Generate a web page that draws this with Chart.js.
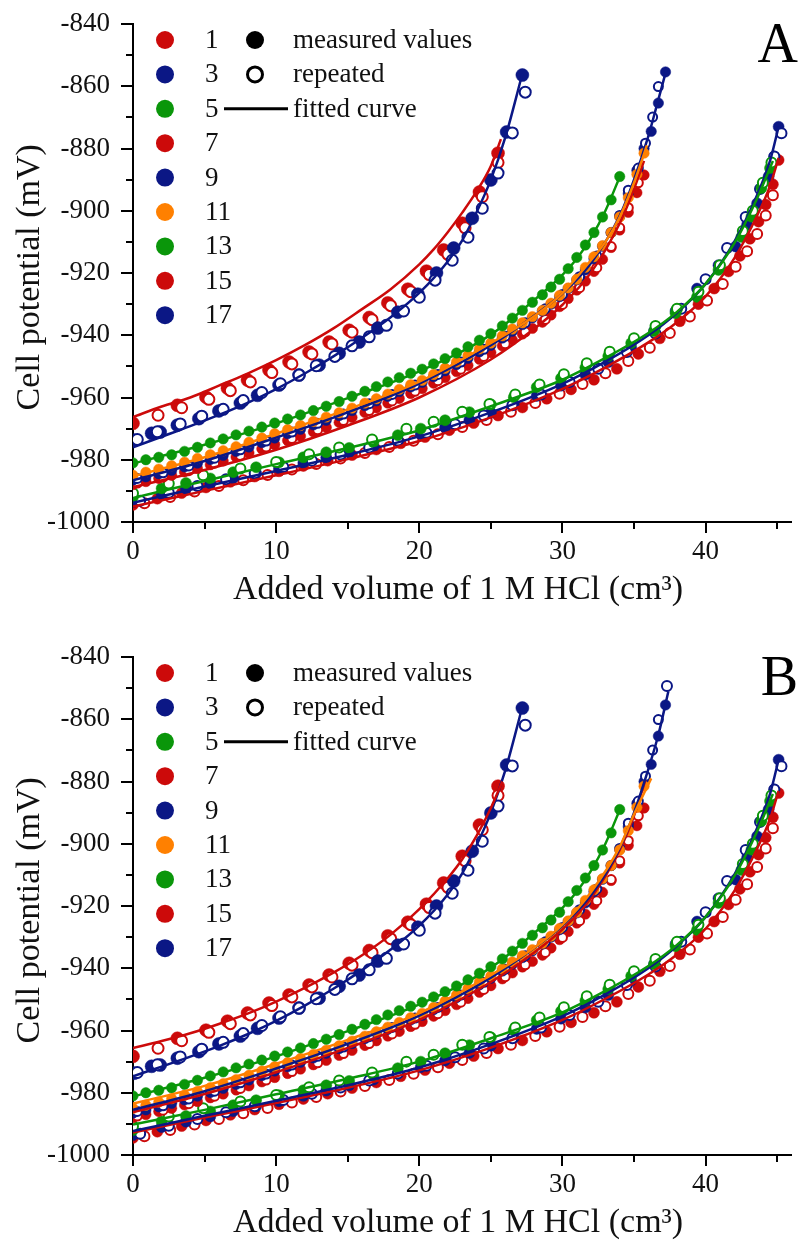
<!DOCTYPE html>
<html><head><meta charset="utf-8">
<script src="https://cdn.jsdelivr.net/npm/chart.js@4.4.1/dist/chart.umd.min.js"></script>
<style>
html,body{margin:0;padding:0;background:#fff;overflow:hidden;width:799px;height:1240px;}
.panel{position:absolute;left:0;width:799px;height:607px;}
#pa{top:0}#pb{top:633px}
</style></head><body>
<div class="panel" id="pa"><canvas id="ca" width="799" height="607"></canvas></div>
<div class="panel" id="pb"><canvas id="cb" width="799" height="607"></canvas></div>
<script>
// ---------- axis ticks ----------
const xMajorTicks = [0, 10, 20, 30, 40];
const xMinorTicks = [5, 15, 25, 35, 45];
const yMajorTicks = [-1000, -980, -960, -940, -920, -900, -880, -860, -840];
const yMinorTicks = [-990, -970, -950, -930, -910, -890, -870, -850];

// ---------- legend ----------
const legendLabels = ['1', '3', '5', '7', '9', '11', '13', '15', '17'];
const RED = '#cc0a0a', NAVY = '#0b1785', GREEN = '#0a960a', ORANGE = '#ff8000';
const legendColors = [RED, NAVY, GREEN, RED, NAVY, ORANGE, GREEN, RED, NAVY];

// ---------- group 1 (series 1 red, 3 navy) ----------
const g1RedX = [0, 3.1, 5.1, 6.6, 8.0, 9.5, 10.9, 12.3, 13.7, 15.1, 16.5, 17.8, 19.2, 20.5, 21.7, 23.0, 24.2, 25.5];
const g1RedY = [-968.3, -962.5, -959.9, -957.0, -954.4, -951.2, -948.6, -945.4, -942.2, -938.4, -934.3, -929.6, -925.2, -919.4, -912.6, -904.0, -894.0, -881.5];
const g1RedRepX = [1.75, 3.4, 5.3, 6.8, 8.2, 9.7, 11.1, 12.5, 13.9, 15.3, 16.7, 18.0, 19.4, 20.7, 22.0, 23.2, 24.4, 25.5];
const g1RedRepY = [-965.7, -963.3, -960.6, -957.8, -955.0, -952.0, -949.2, -946.0, -942.8, -939.0, -935.0, -930.5, -926.0, -920.5, -914.0, -905.5, -895.5, -884.5];
const g1NavyX = [0.1, 1.3, 1.9, 3.1, 4.6, 6.0, 7.5, 8.7, 10.2, 11.6, 13.0, 14.4, 15.8, 17.1, 18.5, 19.9, 21.2, 22.4, 23.7, 25.0, 26.1, 27.2];
const g1NavyY = [-973.7, -971.5, -971.1, -968.9, -966.8, -964.3, -961.8, -959.3, -956.0, -952.8, -949.6, -945.8, -942.2, -937.7, -932.6, -926.8, -920.0, -912.0, -902.4, -890.1, -874.7, -856.4];
const g1NavyRepX = [0.3, 1.7, 3.3, 4.8, 6.3, 7.7, 9.0, 10.3, 11.6, 12.8, 14.1, 15.3, 16.5, 17.7, 18.9, 20.0, 21.1, 22.3, 23.4, 24.4, 25.5, 26.5, 27.4];
const g1NavyRepY = [-973.5, -971.0, -968.5, -966.0, -963.8, -961.0, -958.4, -955.6, -952.8, -949.8, -946.8, -943.4, -940.5, -936.8, -932.2, -927.8, -922.3, -915.9, -908.5, -899.2, -887.9, -875.0, -861.9];

// ---------- group 2 (series 5 green, 7 red, 9 navy, 11 orange) ----------
const g2X = [0, 0.9, 1.8, 2.7, 3.6, 4.5, 5.4, 6.3, 7.2, 8.1, 9.0, 9.9, 10.8, 11.7, 12.6, 13.5, 14.4, 15.3, 16.2, 17.0, 17.8, 18.6, 19.4, 20.2, 21.0, 21.8, 22.6, 23.4, 24.2, 25.0, 25.8, 26.5, 27.2, 27.9, 28.6, 29.2, 29.8, 30.4, 31.0, 31.6, 32.2, 32.8, 33.4, 34.0, 34.6, 35.2, 35.7, 36.2, 36.7, 37.2];
const g2GreenY = [-981.0, -980.0, -979.2, -978.4, -977.3, -976.0, -974.6, -973.3, -972.0, -970.8, -969.5, -968.2, -966.9, -965.6, -964.2, -962.8, -961.3, -959.6, -958.0, -956.5, -955.0, -953.6, -952.2, -950.9, -949.2, -947.5, -945.7, -943.7, -941.6, -939.5, -937.0, -934.5, -932.0, -929.4, -927.0, -924.5, -922.0, -918.6, -915.0, -911.0, -907.0, -902.0, -896.5, -889.0];
const g2OrangeY = [-985.0, -984.0, -983.0, -981.9, -980.8, -979.6, -978.4, -977.1, -975.8, -974.4, -973.0, -971.6, -970.3, -969.0, -967.7, -966.3, -964.9, -963.4, -961.8, -960.4, -958.9, -957.4, -955.9, -954.5, -952.6, -950.6, -948.6, -946.5, -944.4, -942.5, -940.2, -938.0, -936.0, -934.0, -932.0, -929.7, -927.2, -924.8, -922.0, -918.2, -914.8, -911.2, -907.0, -902.0, -895.8, -888.3, -881.5];
const g2NavyY = [-986.5, -985.5, -984.5, -983.4, -982.3, -981.1, -979.9, -978.6, -977.3, -975.9, -974.5, -973.0, -971.6, -970.2, -968.8, -967.3, -965.8, -964.2, -962.6, -961.1, -959.6, -958.1, -956.6, -955.1, -953.3, -951.4, -949.4, -947.4, -945.3, -943.2, -940.9, -938.7, -936.6, -934.4, -932.2, -930.0, -927.6, -925.0, -922.2, -919.0, -915.4, -911.4, -907.0, -901.8, -894.5, -887.0, -880.0, -874.5, -865.4, -855.4];
const g2RedY = [-988.0, -987.0, -986.0, -985.0, -983.9, -982.8, -981.6, -980.4, -979.1, -977.8, -976.5, -975.1, -973.8, -972.4, -971.0, -969.6, -968.0, -966.4, -964.8, -963.3, -961.8, -960.3, -958.7, -957.1, -955.4, -953.6, -951.7, -949.7, -947.7, -945.6, -943.4, -941.5, -939.6, -937.8, -935.8, -933.5, -930.8, -928.2, -925.5, -922.6, -919.5, -915.6, -911.8, -906.2, -900.5, -894.2, -888.5];
const g2RepX = [0.3, 2.1, 3.9, 5.7, 7.5, 9.3, 11.1, 12.9, 14.7, 16.5, 18.1, 19.7, 21.3, 22.9, 24.5, 26.0, 27.4, 28.8, 30.0, 31.2, 32.4, 33.4, 34.0, 34.6, 35.3, 35.8, 36.3, 36.7];
const g2NavyRepY = [-986.0, -984.2, -982.0, -979.5, -976.8, -974.0, -971.1, -968.3, -965.3, -962.0, -959.0, -956.0, -952.6, -948.6, -944.5, -940.3, -936.0, -931.5, -926.9, -921.2, -914.5, -907.0, -901.5, -893.4, -886.3, -878.3, -869.9, -860.1];
const g2RedRepY = [-987.5, -985.6, -983.5, -981.1, -978.6, -975.9, -973.2, -970.4, -967.4, -964.2, -961.1, -958.0, -954.6, -950.9, -946.8, -942.7, -938.9, -934.9, -930.1, -924.7, -918.3, -911.5, -905.5, -899.0, -891.0];
const bNavyRepExtraX = [37.3];
const bNavyRepExtraY = [-849.3];

// ---------- group 3 (series 13 green, 15 red, 17 navy) ----------
const g3GreenX = [0, 2.0, 3.7, 5.4, 7.0, 8.6, 10.2, 11.9, 13.5, 15.1, 16.8, 18.5, 20.1, 21.8, 23.5, 25.0, 26.6, 28.2, 29.9, 31.6, 33.2, 34.8, 36.4, 37.9, 39.4, 40.9, 42.5, 43.2, 43.9, 44.5];
const g3GreenY = [-992.0, -989.2, -987.5, -986.0, -984.0, -982.4, -980.8, -979.2, -977.6, -976.2, -974.4, -972.1, -970.0, -967.3, -964.7, -962.2, -959.9, -956.7, -953.8, -950.4, -946.7, -942.5, -938.7, -932.9, -927.7, -919.0, -908.4, -901.9, -892.7, -886.3];
const g3GreenRepX = [0, 2.5, 4.9, 7.5, 10.0, 12.3, 14.4, 16.7, 19.1, 21.0, 23.0, 24.9, 26.7, 28.4, 30.1, 31.7, 33.3, 35.0, 36.5, 38.0, 39.5, 41.0, 42.6, 43.3, 44.0, 44.6];
const g3GreenRepY = [-990.8, -987.6, -985.0, -982.8, -980.7, -978.2, -976.1, -973.5, -970.0, -967.8, -964.6, -962.1, -959.0, -955.8, -952.5, -949.0, -945.3, -941.0, -937.0, -931.5, -926.0, -917.5, -906.5, -900.0, -891.0, -884.5];
const g3NavyX = [0, 2.0, 3.7, 5.4, 7.0, 8.6, 10.2, 11.9, 13.5, 15.1, 16.8, 18.5, 20.1, 21.8, 23.5, 25.0, 26.6, 28.2, 29.9, 31.6, 33.2, 34.8, 36.4, 37.9, 39.4, 40.9, 42.1, 42.9, 43.6, 44.4, 44.8, 45.1];
const g3NavyY = [-993.6, -991.0, -989.3, -987.6, -985.9, -984.3, -982.7, -981.0, -979.3, -977.6, -975.8, -973.8, -971.8, -969.6, -967.2, -964.9, -962.3, -959.5, -956.2, -952.6, -948.6, -944.0, -938.6, -932.2, -925.0, -917.5, -911.5, -904.5, -897.6, -889.0, -882.6, -873.0];
const g3NavyRepX = [0.5, 2.5, 4.5, 6.5, 8.5, 10.5, 12.5, 14.5, 16.5, 18.5, 20.5, 22.5, 24.5, 26.5, 28.5, 30.5, 32.5, 34.5, 36.5, 38.3, 40.0, 41.5, 42.8, 43.8, 44.8, 45.3];
const g3NavyRepY = [-993.2, -990.6, -988.4, -986.3, -984.3, -982.3, -980.3, -978.3, -976.1, -973.8, -971.3, -968.6, -965.8, -962.5, -959.0, -955.0, -950.8, -945.4, -939.4, -931.5, -922.0, -912.0, -902.0, -893.0, -882.6, -875.1];
const g3RedX = [0, 1.7, 3.4, 5.1, 6.8, 8.5, 10.2, 11.9, 13.6, 15.3, 17.0, 18.7, 20.4, 22.1, 23.8, 25.5, 27.2, 28.9, 30.6, 32.2, 33.8, 35.3, 36.8, 38.2, 39.5, 40.6, 41.6, 42.4, 43.1, 43.7, 44.2, 44.7, 45.1];
const g3RedY = [-994.5, -992.5, -990.7, -988.9, -987.1, -985.4, -983.7, -982.0, -980.3, -978.5, -976.7, -974.7, -972.7, -970.5, -968.2, -965.8, -963.2, -960.4, -957.4, -954.3, -950.8, -946.0, -941.0, -935.5, -930.0, -925.0, -919.5, -914.5, -909.0, -903.5, -898.0, -891.5, -883.7];
const g3RedRepX = [0.8, 2.6, 4.3, 6.0, 7.7, 9.4, 11.1, 12.8, 14.5, 16.2, 17.9, 19.6, 21.3, 23.0, 24.7, 26.4, 28.1, 29.8, 31.4, 33.0, 34.6, 36.1, 37.5, 38.9, 40.1, 41.2, 42.1, 42.9, 43.6, 44.2, 44.7];
const g3RedRepY = [-994.0, -992.0, -990.2, -988.4, -986.6, -984.9, -983.1, -981.4, -979.6, -977.8, -975.9, -973.9, -971.8, -969.5, -967.2, -964.6, -961.8, -958.8, -955.7, -952.2, -948.3, -944.0, -939.3, -934.0, -928.8, -923.5, -918.0, -913.0, -907.5, -901.5, -895.0];

// ---------- fitted curves, panel A ----------
const fA1RedX = [0, 2, 4, 6, 8, 10, 12, 14, 16, 18, 20, 21, 22, 23, 24, 25, 25.7];
const fA1RedY = [-966.3, -962.9, -960.0, -956.2, -952.3, -948.0, -943.2, -937.8, -931.6, -925.2, -917.2, -912.4, -906.8, -900.6, -893.8, -885.6, -877.0];
const fA1NavyX = [0, 2, 4, 6, 8, 10, 12, 14, 16, 18, 20, 22, 23, 24, 25, 26, 27.2];
const fA1NavyY = [-976.0, -972.6, -969.2, -965.6, -961.7, -957.3, -952.3, -946.8, -940.8, -934.2, -926.4, -916.2, -909.5, -900.5, -890.0, -876.5, -856.0];
const f2GreenX = [0, 5, 10, 15, 20, 25, 28, 30, 31, 32, 33, 34.1];
const f2GreenY = [-981.2, -975.2, -968.3, -960.2, -951.6, -939.8, -928.8, -920.6, -915.4, -908.6, -900.0, -888.0];
const fA2OrangeX = [0, 5, 10, 15, 20, 25, 28, 30, 32, 33, 34, 35, 35.9];
const fA2OrangeY = [-985.3, -979.2, -971.6, -963.8, -954.9, -942.5, -934.0, -926.5, -915.8, -910.0, -902.0, -891.0, -879.0];
const fA2NavyX = [0, 5, 10, 15, 20, 25, 28, 30, 32, 34, 35, 36, 36.6, 37.3];
const fA2NavyY = [-986.6, -980.4, -972.9, -964.8, -955.5, -943.2, -933.8, -926.6, -916.8, -901.6, -890.0, -876.0, -866.0, -854.0];
const fA2RedX = [0, 5, 10, 15, 20, 25, 28, 30, 32, 34, 35, 35.7];
const fA2RedY = [-988.8, -983.3, -976.8, -969.0, -960.0, -947.8, -938.0, -930.2, -919.8, -904.0, -893.0, -884.0];
const f3GreenX = [0, 5, 10, 15, 20, 25, 30, 33, 36, 38, 40, 42, 43.5, 44.7];
const fA3GreenY = [-992.3, -986.8, -981.4, -976.2, -970.5, -962.8, -954.3, -947.3, -939.3, -932.5, -923.5, -910.5, -897.0, -884.0];
const f3X = [0, 5, 10, 15, 20, 25, 30, 33, 36, 38, 40, 42, 43.5, 44.5, 45.1];
const fA3NavyY = [-993.8, -988.6, -983.6, -978.4, -972.5, -964.8, -955.6, -948.5, -940.0, -932.8, -923.5, -910.0, -896.0, -884.0, -873.0];
const fA3RedY = [-995.0, -990.0, -985.0, -979.8, -974.0, -966.4, -957.2, -950.3, -942.3, -935.8, -927.5, -915.3, -902.5, -892.0, -883.0];

// ---------- fitted curves, panel B ----------
const fB1RedX = [0, 2, 4, 6, 8, 10, 12, 14, 16, 18, 20, 22, 23, 24, 25, 25.8];
const fB1RedY = [-965.6, -963.4, -960.9, -957.9, -954.6, -950.7, -946.3, -941.4, -935.8, -929.2, -921.0, -911.0, -905.0, -897.5, -888.5, -880.0];
const fB1NavyY = [-974.7, -971.6, -968.4, -965.0, -961.2, -956.9, -952.0, -946.6, -940.6, -934.0, -926.3, -916.2, -909.5, -900.5, -890.0, -876.5, -856.0];
const fB2OrangeX = [0, 5, 10, 15, 20, 25, 28, 30, 32, 34, 35, 36.2];
const fB2OrangeY = [-983.5, -977.8, -970.7, -963.0, -954.4, -942.2, -933.5, -926.0, -915.5, -901.0, -890.5, -879.0];
const fB2NavyX = [0, 5, 10, 15, 20, 25, 28, 30, 32, 34, 35, 36, 36.7, 37.4];
const fB2NavyY = [-985.5, -979.5, -972.2, -964.3, -955.2, -943.0, -933.6, -926.3, -916.5, -901.4, -890.0, -876.0, -865.0, -851.0];
const fB2RedX = [0, 5, 10, 15, 20, 25, 28, 30, 32, 34, 35, 35.8];
const fB2RedY = [-986.2, -980.4, -973.4, -965.6, -956.6, -944.4, -935.0, -927.5, -917.4, -902.0, -891.0, -879.5];
const fB3GreenY = [-990.2, -985.5, -980.5, -975.5, -970.0, -962.5, -954.2, -947.3, -939.3, -932.5, -923.5, -910.5, -897.0, -884.0];
const fB3NavyY = [-992.3, -987.4, -982.6, -977.6, -971.9, -964.4, -955.4, -948.4, -940.0, -932.8, -923.5, -910.0, -896.0, -884.0, -873.0];
const fB3RedY = [-992.8, -988.0, -983.3, -978.4, -972.8, -965.5, -956.6, -949.8, -942.0, -935.6, -927.3, -915.2, -902.5, -892.0, -883.0];

// ---------- helpers ----------
const SERIF = "'Liberation Serif', 'Times New Roman', serif";
const TXT = '#111';
const NB = '\u00a0';
function pts(X, Y) { return Y.map((y, i) => ({ x: X[i], y: y })); }
function filled(X, Y, c, r) {
  return { data: pts(X, Y), showLine: false, pointRadius: r, pointHoverRadius: r,
    pointBackgroundColor: c, pointBorderColor: c, pointBorderWidth: 0.5 };
}
function openPts(X, Y, c, r) {
  return { data: pts(X, Y), showLine: false, pointRadius: r, pointHoverRadius: r,
    pointBackgroundColor: '#ffffff', pointBorderColor: c, pointBorderWidth: 2 };
}
function fit(X, Y, c) {
  return { data: pts(X, Y), showLine: true, borderColor: c, borderWidth: 2.5, pointRadius: 0,
    cubicInterpolationMode: 'monotone', fill: false };
}

function decorPlugin(letter) {
  return {
    id: 'decor' + letter,
    afterDraw(chart) {
      const ctx = chart.ctx, xs = chart.scales.x, ys = chart.scales.y, a = chart.chartArea;
      ctx.save();
      ctx.strokeStyle = '#000'; ctx.lineWidth = 2;
      const tickX = (v, len) => { const p = Math.round(xs.getPixelForValue(v)); ctx.beginPath(); ctx.moveTo(p, a.bottom); ctx.lineTo(p, a.bottom + len); ctx.stroke(); };
      const tickY = (v, len) => { const p = Math.round(ys.getPixelForValue(v)); ctx.beginPath(); ctx.moveTo(a.left, p); ctx.lineTo(a.left - len, p); ctx.stroke(); };
      xMajorTicks.forEach(v => tickX(v, 11)); xMinorTicks.forEach(v => tickX(v, 7));
      yMajorTicks.forEach(v => tickY(v, 12)); yMinorTicks.forEach(v => tickY(v, 7));
      // legend
      ctx.font = '27px ' + SERIF; ctx.textBaseline = 'middle'; ctx.textAlign = 'left';
      legendLabels.forEach((t, i) => {
        const y = 40 + i * 34.4;
        ctx.fillStyle = legendColors[i]; ctx.beginPath(); ctx.arc(165, y, 9, 0, Math.PI * 2); ctx.fill();
        ctx.fillStyle = TXT; ctx.fillText(t, 205, y + 1);
      });
      ctx.fillStyle = '#000';
      ctx.beginPath(); ctx.arc(255, 40, 9, 0, Math.PI * 2); ctx.fill();
      ctx.lineWidth = 3; ctx.beginPath(); ctx.arc(255, 74.4, 7.5, 0, Math.PI * 2); ctx.stroke();
      ctx.beginPath(); ctx.moveTo(224, 108.8); ctx.lineTo(288, 108.8); ctx.stroke();
      ctx.fillStyle = TXT;
      ctx.fillText('measured values', 293, 41);
      ctx.fillText('repeated', 293, 75.4);
      ctx.fillText('fitted curve', 293, 109.8);
      ctx.font = '56px ' + SERIF; ctx.textAlign = 'right'; ctx.textBaseline = 'alphabetic';
      ctx.fillStyle = '#000'; ctx.fillText(letter, 798, 62);
      ctx.restore();
    }
  };
}

function measuredSets(isB) {
  const sets = [
    openPts(g1NavyRepX, g1NavyRepY, NAVY, 5.5), filled(g1NavyX, g1NavyY, NAVY, 6.5),
    openPts(g1RedRepX, g1RedRepY, RED, 5.5), filled(g1RedX, g1RedY, RED, 6.5),
    filled(g2X, g2GreenY, GREEN, 5.2), filled(g2X, g2OrangeY, ORANGE, 5.2),
    openPts(g2RepX, g2NavyRepY, NAVY, 4.5), filled(g2X, g2NavyY, NAVY, 5.2),
    openPts(g2RepX, g2RedRepY, RED, 4.5), filled(g2X, g2RedY, RED, 5.2),
    openPts(g3GreenRepX, g3GreenRepY, GREEN, 5), filled(g3GreenX, g3GreenY, GREEN, 5.5),
    openPts(g3NavyRepX, g3NavyRepY, NAVY, 5), filled(g3NavyX, g3NavyY, NAVY, 5.5),
    openPts(g3RedRepX, g3RedRepY, RED, 5), filled(g3RedX, g3RedY, RED, 5.5)
  ];
  if (isB) sets.unshift(openPts(bNavyRepExtraX, bNavyRepExtraY, NAVY, 5));
  return sets;
}

function makeChart(id, letter, fits, isB) {
  const datasets = fits.concat(measuredSets(isB));
  return new Chart(document.getElementById(id), {
    type: 'scatter',
    data: { datasets: datasets },
    options: {
      responsive: false, animation: false, events: [],
      layout: { padding: { top: 24, right: 6, left: 0, bottom: 0 } },
      plugins: { legend: { display: false }, tooltip: { enabled: false } },
      scales: {
        x: {
          type: 'linear', min: 0, max: 46,
          afterFit: s => { s.height = 85; },
          ticks: { stepSize: 10, includeBounds: false, padding: 0, maxRotation: 0, autoSkip: false,
            color: TXT, font: { family: SERIF, size: 27 }, callback: v => String(v) },
          grid: { display: true, drawOnChartArea: false, drawTicks: true, tickLength: 14, tickColor: 'rgba(0,0,0,0)' },
          border: { display: true, color: '#000', width: 2 },
          title: { display: true, text: 'Added volume of 1 M HCl (cm³)' + NB, color: TXT,
            font: { family: SERIF, size: 34, lineHeight: 1 }, padding: { top: 0, bottom: 0 } }
        },
        y: {
          type: 'linear', min: -1000, max: -840,
          afterFit: s => { s.width = 133; },
          ticks: { stepSize: 20, padding: 0, autoSkip: false,
            color: TXT, font: { family: SERIF, size: 27 }, callback: v => String(v) },
          grid: { display: true, drawOnChartArea: false, drawTicks: true, tickLength: 23, tickColor: 'rgba(0,0,0,0)' },
          border: { display: true, color: '#000', width: 2 },
          title: { display: true, text: 'Cell potential (mV)' + NB, color: TXT,
            font: { family: SERIF, size: 34, lineHeight: 1 }, padding: { top: 13, bottom: 0 } }
        }
      }
    },
    plugins: [decorPlugin(letter)]
  });
}

const fitsA = [
  fit(fA1RedX, fA1RedY, RED), fit(fA1NavyX, fA1NavyY, NAVY),
  fit(f2GreenX, f2GreenY, GREEN), fit(fA2OrangeX, fA2OrangeY, ORANGE),
  fit(fA2NavyX, fA2NavyY, NAVY), fit(fA2RedX, fA2RedY, RED),
  fit(f3GreenX, fA3GreenY, GREEN), fit(f3X, fA3NavyY, NAVY), fit(f3X, fA3RedY, RED)
];
const fitsB = [
  fit(fB1RedX, fB1RedY, RED), fit(fA1NavyX, fB1NavyY, NAVY),
  fit(f2GreenX, f2GreenY, GREEN), fit(fB2OrangeX, fB2OrangeY, ORANGE),
  fit(fB2NavyX, fB2NavyY, NAVY), fit(fB2RedX, fB2RedY, RED),
  fit(f3GreenX, fB3GreenY, GREEN), fit(f3X, fB3NavyY, NAVY), fit(f3X, fB3RedY, RED)
];
makeChart('ca', 'A', fitsA, false);
makeChart('cb', 'B', fitsB, true);
</script></body></html>
